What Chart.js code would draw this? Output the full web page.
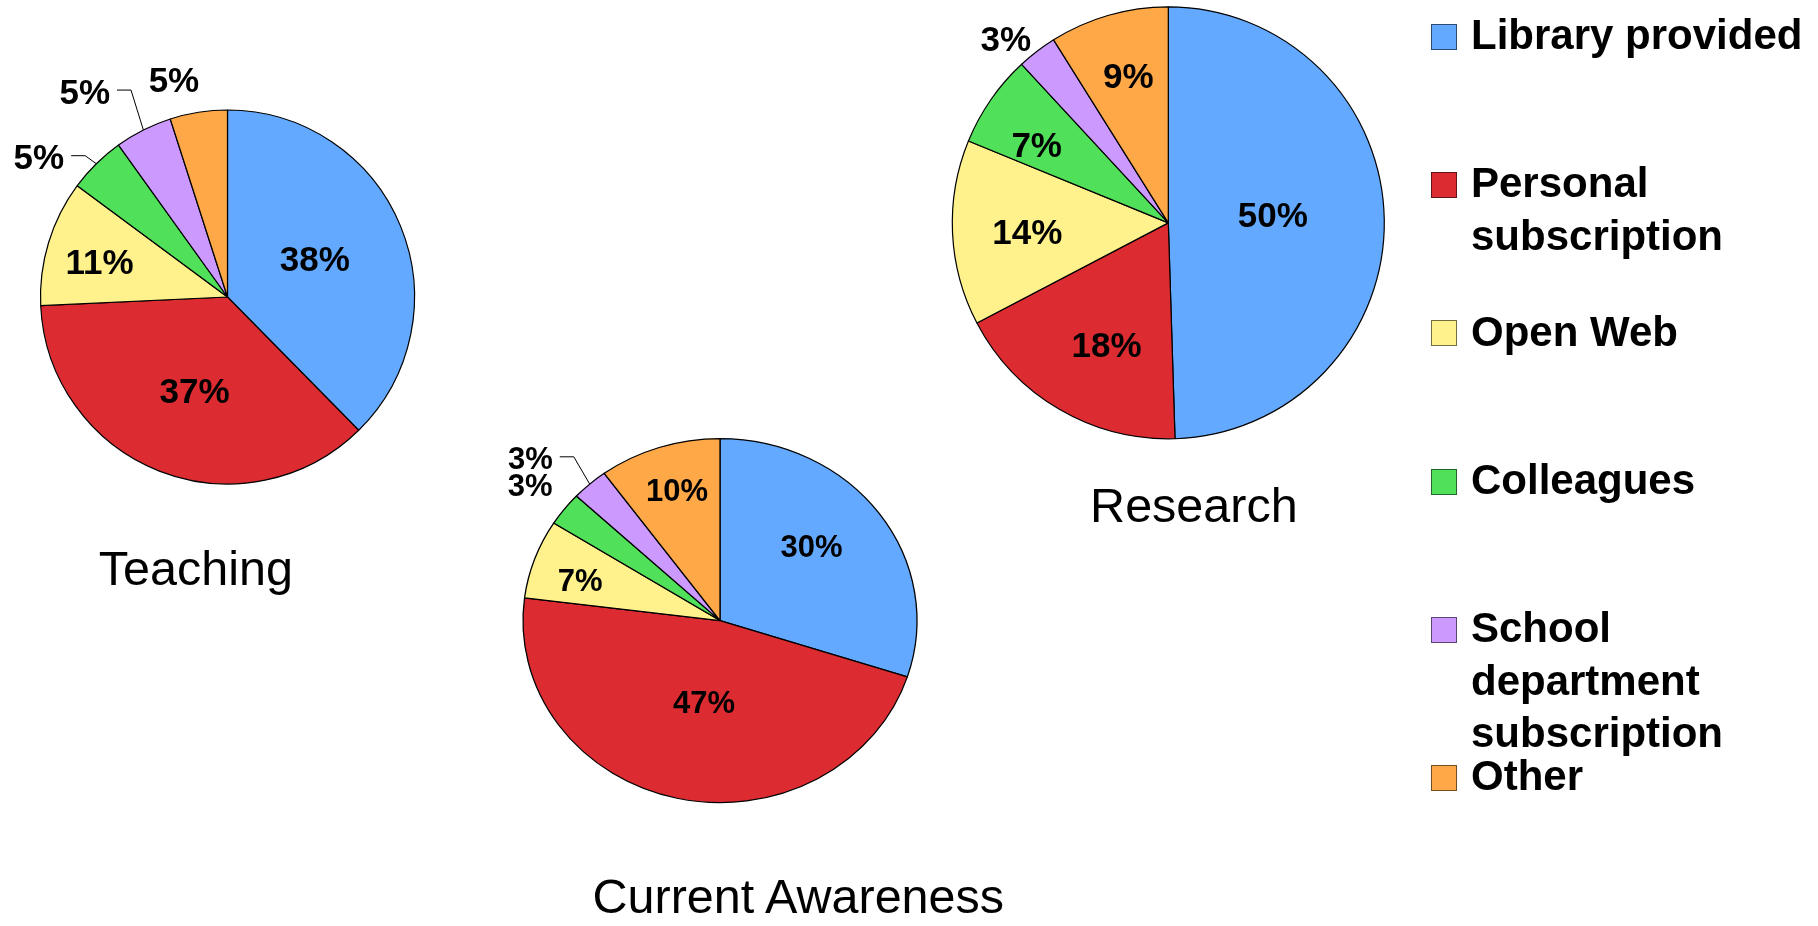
<!DOCTYPE html>
<html>
<head>
<meta charset="utf-8">
<script src="https://cdn.jsdelivr.net/npm/chart.js@4/dist/chart.umd.min.js"></script>
<style>
html,body{margin:0;padding:0;background:#fff;}
#wrap{position:relative;width:1818px;height:926px;overflow:hidden;background:#fff;font-family:"Liberation Sans",Arial,Helvetica,sans-serif;}
#wrap canvas{position:absolute;left:0;top:0;}
.title{position:absolute;font-size:48.5px;line-height:48.5px;white-space:nowrap;transform:translateX(-50%);color:#000;}
.lg-box{position:absolute;width:26px;height:26px;box-sizing:border-box;border:1.5px solid #000;}
.lg-text{position:absolute;width:345px;font-size:42px;font-weight:bold;line-height:52.5px;color:#000;}
</style>
</head>
<body>
<div id="wrap">
<canvas id="cTeaching" width="1818" height="926"></canvas>
<canvas id="cAwareness" width="1818" height="926"></canvas>
<canvas id="cResearch" width="1818" height="926"></canvas>
</div>
<script>
// ---- data ----
const categories = ['Library provided', 'Personal subscription', 'Open Web', 'Colleagues', 'School department subscription', 'Other'];
const teachingValues  = [38, 37, 11, 5, 5, 5];
const awarenessValues = [30, 47, 7, 3, 3, 10];
const researchValues  = [50, 18, 14, 7, 3, 9];
const chartTitles = ['Teaching', 'Current Awareness', 'Research'];

// ---- styles ----
const sliceColors = ['#63A9FF', '#DC2C32', '#FFF28C', '#50E05A', '#CC99FF', '#FFA848'];
const FONT = '"Liberation Sans", Arial, Helvetica, sans-serif';

function darken(hex, k) {
  const n = parseInt(hex.slice(1), 16);
  const r = Math.round(((n >> 16) & 255) * k), g = Math.round(((n >> 8) & 255) * k), b = Math.round((n & 255) * k);
  return 'rgb(' + r + ',' + g + ',' + b + ')';
}

const W = 1818, H = 926;

const pies = [
  { id: 'cTeaching', values: teachingValues, title: chartTitles[0], cx: 227.5, cy: 297, r: 187, sx: 1, font: 35,
    titleX: 195.8, titleBase: 585,
    place: [ {f: .51, s: -1.5}, {f: .53, s: -2}, {f: .71, s: -1.6}, {f: 1.257, s: -8.8, leader: true}, {f: 1.34, s: -8, leader: true}, {f: 1.2, s: -4.9} ] },
  { id: 'cAwareness', values: awarenessValues, title: chartTitles[1], cx: 720, cy: 620.6, r: 182, sx: 1.0824, font: 31,
    titleX: 798.3, titleBase: 913.3,
    place: [ {f: .62, s: -5.4}, {f: .456, s: -2.4}, {f: .745, s: -2.2}, {f: 1.219, s: 0}, {f: 1.314, s: -5.7, leader: true}, {f: .752, s: 1.1} ] },
  { id: 'cResearch', values: researchValues, title: chartTitles[2], cx: 1168.3, cy: 221.7, r: 216, sx: 1, font: 35,
    titleX: 1193.9, titleBase: 521.7,
    place: [ {f: .485, s: -3.7}, {f: .631, s: -3.4}, {f: .654, s: -0.7}, {f: .709, s: -4}, {f: 1.137, s: -4}, {f: .708, s: .9} ] }
];

function makePlugin(spec) {
  return {
    id: 'pieDecor',
    beforeDatasetsDraw(chart) {
      const ctx = chart.ctx;
      ctx.save();
      if (spec.sx !== 1) {
        const a = chart.getDatasetMeta(0).data[0];
        ctx.translate(a.x, a.y);
        ctx.scale(spec.sx, 1);
        ctx.translate(-a.x, -a.y);
      }
    },
    afterDatasetsDraw(chart) {
      const ctx = chart.ctx;
      ctx.restore();
      const meta = chart.getDatasetMeta(0);
      ctx.save();
      meta.data.forEach((arc, i) => {
        const p = arc.getProps(['x', 'y', 'startAngle', 'endAngle', 'outerRadius'], true);
        const mid = (p.startAngle + p.endAngle) / 2;
        const pl = spec.place[i];
        const a = mid + pl.s * Math.PI / 180;
        const rr = p.outerRadius * pl.f;
        const lx = p.x + Math.cos(a) * rr * spec.sx;
        const ly = p.y + Math.sin(a) * rr;
        const text = spec.values[i] + '%';
        ctx.font = 'bold ' + spec.font + 'px ' + FONT;
        ctx.fillStyle = '#000';
        ctx.textAlign = 'center';
        ctx.textBaseline = 'alphabetic';
        ctx.fillText(text, lx, ly + 0.358 * spec.font);
        if (pl.leader) {
          const w = ctx.measureText(text).width;
          const x0 = lx + w / 2 + 7, y0 = ly - 1;
          const ex = p.x + Math.cos(mid) * p.outerRadius * spec.sx;
          const ey = p.y + Math.sin(mid) * p.outerRadius;
          ctx.beginPath();
          ctx.moveTo(x0, y0);
          ctx.lineTo(x0 + 14, y0);
          ctx.lineTo(ex, ey);
          ctx.lineWidth = 1;
          ctx.strokeStyle = '#000';
          ctx.stroke();
        }
      });
      ctx.restore();
    }
  };
}

pies.forEach(spec => {
  const R = spec.r * spec.sx + 8;
  new Chart(document.getElementById(spec.id), {
    type: 'pie',
    data: {
      labels: categories,
      datasets: [{
        data: spec.values,
        backgroundColor: sliceColors,
        borderColor: '#000',
        borderWidth: 1.2,
        radius: spec.r
      }]
    },
    options: {
      responsive: false,
      animation: false,
      events: [],
      layout: { padding: { left: Math.max(0, spec.cx - R), right: Math.max(0, W - spec.cx - R), top: Math.max(0, spec.cy - R), bottom: Math.max(0, H - spec.cy - R) } },
      plugins: { legend: { display: false }, tooltip: { enabled: false }, title: { display: false } }
    },
    plugins: [makePlugin(spec)]
  });
  // title as real text
  const t = document.createElement('div');
  t.className = 'title';
  t.textContent = spec.title;
  t.style.left = spec.titleX + 'px';
  t.style.top = (spec.titleBase - 41.05) + 'px';
  document.getElementById('wrap').appendChild(t);
});

// ---- legend (HTML) ----
const wrap = document.getElementById('wrap');
categories.forEach((name, i) => {
  const base = 50 + 148.2 * i;
  const box = document.createElement('div');
  box.className = 'lg-box';
  box.style.left = '1431px';
  box.style.top = (base - 26) + 'px';
  box.style.background = sliceColors[i];
  box.style.borderColor = darken(sliceColors[i], 0.45);
  wrap.appendChild(box);
  const tx = document.createElement('div');
  tx.className = 'lg-text';
  tx.textContent = name;
  tx.style.left = '1471px';
  tx.style.top = (base - 40.8) + 'px';
  wrap.appendChild(tx);
});
</script>
</body>
</html>
